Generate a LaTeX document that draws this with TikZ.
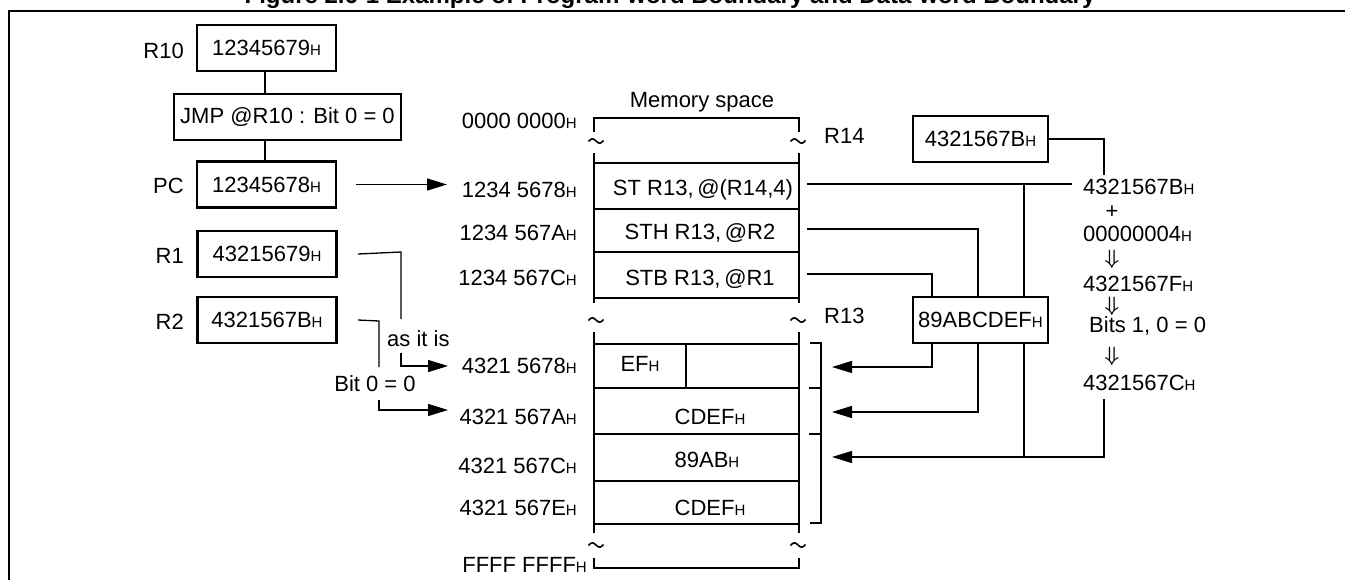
\documentclass[tikz,border=0pt]{standalone}
\usepackage{fontspec}
\setmainfont{Liberation Sans}
\usetikzlibrary{arrows.meta,calc}
\newcommand{\Hs}{{\fontsize{15}{15}\selectfont H}}
\newcommand{\wavemark}[1]{\draw[line width=1.6pt, shift={(#1)}] (-7.5,0.5) sin (-3.75,-2.2) cos (0,0) sin (3.75,2.2) cos (7.5,-0.5);}
\begin{document}
\begin{tikzpicture}[x=1pt,y=-1pt,
  every node/.style={font=\fontsize{22}{26}\selectfont, inner sep=0pt, text=black},
  heavy/.style={line width=2.6pt},
  fine/.style={line width=1.3pt},
  regbox/.style={draw, line width=2.6pt, minimum width=139pt, minimum height=46pt},
  arr/.style={fine, -{Triangle[length=20pt,width=12pt]}},
  dnarr/.style={font=\fontsize{20}{20}\selectfont\boldmath},
  lbl/.style={anchor=base east},
  lblw/.style={anchor=base west},
  ctr/.style={anchor=base},
]
\useasboundingbox (0,0) rectangle (1345,579);

% title (cut by the top edge) and frame
\node[anchor=base, font=\fontsize{24}{28}\selectfont\bfseries] (title) at (670,3.5) {Figure 2.6-1 Example of Program-word Boundary and Data-word Boundary};
\draw[heavy] (9,600) -- (9,11) -- (1360,11);

% left registers
\node[regbox] (r10) at (266.5,48) {12345679\Hs};
\node[lbl] (r10l) at (184,58) {R10};
\node[draw, fine, minimum width=227pt, minimum height=46pt] (jmp) at (287.5,117) {JMP @R10 : Bit 0 = 0};
\node[regbox] (pc) at (266.5,184.5) {12345678\Hs};
\node[lbl] (pcl) at (184,193) {PC};
\node[regbox] (r1) at (267,254) {43215679\Hs};
\node[lbl] (r1l) at (184,263) {R1};
\node[regbox] (r2) at (267,320) {4321567B\Hs};
\node[lbl] (r2l) at (184,329) {R2};
\draw[fine] ([xshift=-1.5pt]r10.south) -- ([xshift=-22.5pt]jmp.north);
\draw[fine] ([xshift=-22.5pt]jmp.south) -- ([xshift=-1.5pt]pc.north);

% memory space
\node[ctr] (memt) at (702,107) {Memory space};
\draw[heavy] (594,132) -- (594,118) -- (799,118) -- (799,132);
\wavemark{596,141}
\wavemark{798,141}
\draw[heavy] (594,153) -- (594,303);
\draw[heavy] (799,153) -- (799,303);
\foreach \y in {163,209,252,298} \draw[fine] (594,\y) -- (799,\y);
\wavemark{596,320}
\wavemark{798,320}
\draw[heavy] (594,332) -- (594,533);
\draw[heavy] (799,332) -- (799,533);
\foreach \y in {344,388,434,481,524} \draw[fine] (594,\y) -- (799,\y);
\draw[fine] (686,344) -- (686,388);
\wavemark{596,545}
\wavemark{798,545}
\draw[heavy] (594,558) -- (594,568) -- (799,568) -- (799,558);

% addresses
\node[lbl] (a0) at (577,128) {0000 0000\Hs};
\node[lbl] (a1) at (577,197) {1234 5678\Hs};
\node[lbl] (a2) at (577,240) {1234 567A\Hs};
\node[lbl] (a3) at (577,285) {1234 567C\Hs};
\node[lbl] (b1) at (577,373) {4321 5678\Hs};
\node[lbl] (b2) at (577,424) {4321 567A\Hs};
\node[lbl] (b3) at (577,473) {4321 567C\Hs};
\node[lbl] (b4) at (577,515) {4321 567E\Hs};
\node[lbl] (af) at (587,572) {FFFF FFFF\Hs};

% memory contents
\node[ctr] (c1) at (703,195) {ST R13,\,@(R14,4)};
\node[ctr] (c2) at (700,239) {STH R13,\,@R2};
\node[ctr] (c3) at (700,285) {STB R13,\,@R1};
\node[ctr] (d1) at (640,371) {EF\Hs};
\node[ctr] (d2) at (710,424) {CDEF\Hs};
\node[ctr] (d3) at (707,467) {89AB\Hs};
\node[ctr] (d4) at (710,515) {CDEF\Hs};
\node[lblw] (r14l) at (824,143) {R14};
\node[lblw] (r13l) at (824,323) {R13};

% brackets of R13 bytes
\draw[fine] (810,343) -- (821,343) -- (821,523) -- (810,523);
\draw[fine] (809,388) -- (821,388);
\draw[fine] (809,434) -- (821,434);

% PC arrow
\coordinate (pcs) at ([xshift=19pt]pc.east);
\draw[arr] (pcs) -- (447,184.5);

% R1 / R2 connectors
\draw[fine] ([xshift=20pt]r1.east) -- (401,252) -- (401,319);
\node[lblw] (asit) at (387,346) {as it is};
\draw[arr] (401,353) -- (401,366) -- (448,366);
\draw[fine] ([xshift=20pt]r2.east) -- (379,321) -- (379,367);
\node[ctr] (bit0) at (375,391) {Bit 0 = 0};
\draw[arr] (379,400) -- (379,410) -- (448,410);

% right registers
\node[regbox, minimum width=135pt] (r14) at (980.5,139) {4321567B\Hs};
\node[regbox, minimum width=135pt] (r13) at (980.5,320) {89ABCDEF\Hs};

% calculation
\node[lblw] (k1) at (1083,194) {4321567B\Hs};
\node (k2) at (1112,212) {+};
\node[lblw] (k3) at (1083,241) {00000004\Hs};
\node[dnarr] (k4) at (1112,259) {$\Downarrow$};
\node[lblw] (k5) at (1083,291) {4321567F\Hs};
\node[dnarr] (k6) at (1112,306.5) {$\Downarrow$};
\node[lblw] (k7) at (1089,332) {Bits 1, 0 = 0};
\node[dnarr] (k8) at (1112,356) {$\Downarrow$};
\node[lblw] (k9) at (1083,390) {4321567C\Hs};

% connectors on the right
\draw[fine] (r14.east) -- (1104,139) -- (1104,175);
\draw[fine] (807,184) -- (1072,184);
\draw[fine] (1024,184) -- (1024,297);
\draw[fine] (807,229) -- (978,229) -- (978,297);
\draw[fine] (807,274) -- (932,274) -- (932,297);
\draw[arr] (932,343) -- (932,367) -- (832,367);
\draw[arr] (978,343) -- (978,412) -- (832,412);
\draw[fine] (1024,343) -- (1024,457);
\draw[arr] (1104,399) -- (1104,457) -- (832,457);
\end{tikzpicture}
\end{document}
